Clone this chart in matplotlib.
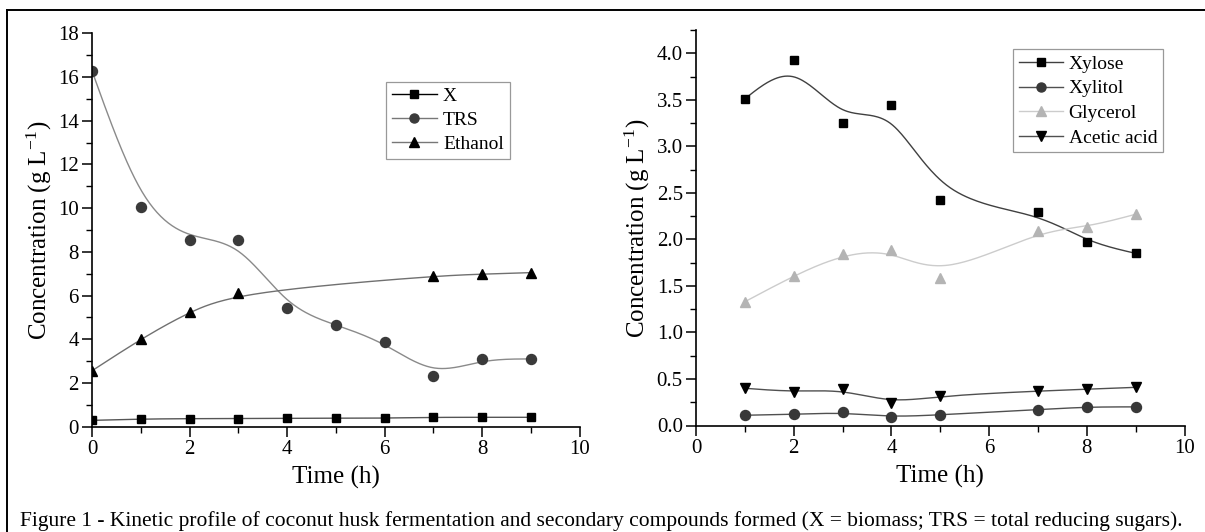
import numpy as np
import matplotlib
matplotlib.use("Agg")
import matplotlib.pyplot as plt
from matplotlib.lines import Line2D
from matplotlib.ticker import MultipleLocator, FormatStrFormatter

plt.rcParams['font.family'] = ['Liberation Serif', 'DejaVu Serif']
plt.rcParams['mathtext.fontset'] = 'stix'

# ---- Left panel data ----
t_left = [0, 1, 2, 3, 4, 5, 6, 7, 8, 9]
biomass_X = [0.29, 0.35, 0.37, 0.37, 0.39, 0.39, 0.39, 0.43, 0.43, 0.43]
trs = [16.28, 10.07, 8.55, 8.55, 5.43, 4.66, 3.87, 2.30, 3.10, 3.10]
t_ethanol = [0, 1, 2, 3, 7, 8, 9]
ethanol = [2.56, 4.01, 5.27, 6.14, 6.90, 6.98, 7.05]

# ---- Right panel data ----
t_right = [1, 2, 3, 4, 5, 7, 8, 9]
xylose = [3.51, 3.93, 3.25, 3.44, 2.42, 2.29, 1.97, 1.85]
xylitol = [0.11, 0.12, 0.14, 0.09, 0.115, 0.17, 0.20, 0.20]
glycerol = [1.33, 1.61, 1.84, 1.89, 1.59, 2.09, 2.13, 2.27]
acetic = [0.40, 0.36, 0.39, 0.24, 0.32, 0.37, 0.39, 0.41]

left_labels = ['X', 'TRS', 'Ethanol']
right_labels = ['Xylose', 'Xylitol', 'Glycerol', 'Acetic acid']
caption = ("Figure 1 - Kinetic profile of coconut husk fermentation and secondary "
           "compounds formed (X = biomass; TRS = total reducing sugars).")


def bspline(x, y, n=40):
    """Uniform cubic B-spline using the data points as control points (Origin-style smoothing)."""
    P = np.column_stack([np.asarray(x, float), np.asarray(y, float)])
    P = np.vstack([2 * P[0] - P[1], P, 2 * P[-1] - P[-2]])
    t = np.linspace(0, 1, n)
    b0 = (1 - t) ** 3 / 6
    b1 = (3 * t ** 3 - 6 * t ** 2 + 4) / 6
    b2 = (-3 * t ** 3 + 3 * t ** 2 + 3 * t + 1) / 6
    b3 = t ** 3 / 6
    out = []
    for i in range(len(P) - 3):
        p0, p1, p2, p3 = P[i:i + 4]
        out.append(np.outer(b0, p0) + np.outer(b1, p1) + np.outer(b2, p2) + np.outer(b3, p3))
    out = np.vstack(out)
    return out[:, 0], out[:, 1]


W, H = 1205, 532
fig = plt.figure(figsize=(W / 100, H / 100), dpi=100)

# frame lines (top and left)
fig.add_artist(Line2D([7.3 / W, 1.0], [1 - 10 / H, 1 - 10 / H], color='black', lw=1.4))
fig.add_artist(Line2D([7.3 / W, 7.3 / W], [0, 1 - 10 / H], color='black', lw=1.4))

axL = fig.add_axes([92 / W, 1 - 426.7 / H, (579.5 - 92) / W, (426.7 - 33.3) / H])
axR = fig.add_axes([696 / W, 1 - 425.5 / H, (1184.5 - 696) / W, (425.5 - 30) / H])

for ax in (axL, axR):
    ax.spines['top'].set_visible(False)
    ax.spines['right'].set_visible(False)
    ax.spines['left'].set_linewidth(1.2)
    ax.spines['bottom'].set_linewidth(1.2)
    ax.tick_params(which='major', direction='out', length=7.5, width=1.1, labelsize=15, pad=2)
    ax.tick_params(which='minor', direction='out', length=4, width=1.0)
    ax.set_xlim(0, 10)
    ax.xaxis.set_major_locator(MultipleLocator(2))
    ax.xaxis.set_minor_locator(MultipleLocator(1))
    ax.set_xlabel('Time (h)', fontsize=18, labelpad=5)
    ax.set_ylabel(r'Concentration (g L$^{\mathregular{-1}}$)', fontsize=18, labelpad=3)

ms = 6.4
# Left panel
axL.set_ylim(0, 18)
axL.yaxis.set_major_locator(MultipleLocator(2))
axL.yaxis.set_minor_locator(MultipleLocator(1))

sx, sy = bspline(t_left, biomass_X)
axL.plot(sx, sy, color='#555555', lw=1.0)
axL.plot(t_left, biomass_X, 's', color='black', ms=ms)
sx, sy = bspline(t_left, trs)
axL.plot(sx, sy, color='#8a8a8a', lw=1.0)
axL.plot(t_left, trs, 'o', color='#3a3a3a', ms=ms + 0.8)
sx, sy = bspline(t_ethanol, ethanol)
axL.plot(sx, sy, color='#707070', lw=1.0)
axL.plot(t_ethanol, ethanol, '^', color='black', ms=ms + 1.0)

hL = [Line2D([], [], color='black', lw=1.0, marker='s', ms=5.5, mfc='black', mec='black'),
      Line2D([], [], color='#777777', lw=1.0, marker='o', ms=6.5, mfc='#3a3a3a', mec='#3a3a3a'),
      Line2D([], [], color='#777777', lw=1.0, marker='^', ms=6.5, mfc='black', mec='black')]
legL = fig.legend(hL, left_labels, loc='upper left',
                  bbox_to_anchor=(385.7 / W, 1 - 81.7 / H), bbox_transform=fig.transFigure,
                  fontsize=14, frameon=True, fancybox=False, edgecolor='#808080',
                  handlelength=2.35, handletextpad=0.3, borderpad=0.3, labelspacing=0.33,
                  borderaxespad=0)
legL.get_frame().set_linewidth(0.9)

# Right panel
axR.set_ylim(0, 4.25)
axR.yaxis.set_major_locator(MultipleLocator(0.5))
axR.yaxis.set_minor_locator(MultipleLocator(0.25))
axR.yaxis.set_major_formatter(FormatStrFormatter('%.1f'))

sx, sy = bspline(t_right, xylose)
axR.plot(sx, sy, color='#404040', lw=1.0)
axR.plot(t_right, xylose, 's', color='black', ms=ms)
sx, sy = bspline(t_right, xylitol)
axR.plot(sx, sy, color='#505050', lw=1.0)
axR.plot(t_right, xylitol, 'o', color='#383838', ms=ms + 0.8)
sx, sy = bspline(t_right, glycerol)
axR.plot(sx, sy, color='#cccccc', lw=1.0)
axR.plot(t_right, glycerol, '^', color='#b4b4b4', ms=ms + 1.0)
sx, sy = bspline(t_right, acetic)
axR.plot(sx, sy, color='#505050', lw=1.0)
axR.plot(t_right, acetic, 'v', color='black', ms=ms + 1.0)

hR = [Line2D([], [], color='#404040', lw=1.0, marker='s', ms=5.5, mfc='black', mec='black'),
      Line2D([], [], color='#505050', lw=1.0, marker='o', ms=6.5, mfc='#383838', mec='#383838'),
      Line2D([], [], color='#cccccc', lw=1.0, marker='^', ms=6.5, mfc='#b4b4b4', mec='#b4b4b4'),
      Line2D([], [], color='#505050', lw=1.0, marker='v', ms=6.5, mfc='black', mec='black')]
legR = fig.legend(hR, right_labels, loc='upper left',
                  bbox_to_anchor=(1013.3 / W, 1 - 49.3 / H), bbox_transform=fig.transFigure,
                  fontsize=14, frameon=True, fancybox=False, edgecolor='#808080',
                  handlelength=2.25, handletextpad=0.3, borderpad=0.3, labelspacing=0.36,
                  borderaxespad=0)
legR.get_frame().set_linewidth(0.9)

fig.text(20 / W, 1 - 526 / H, caption, fontsize=15.5, va='baseline', ha='left')

fig.savefig('out.png', dpi=100)
